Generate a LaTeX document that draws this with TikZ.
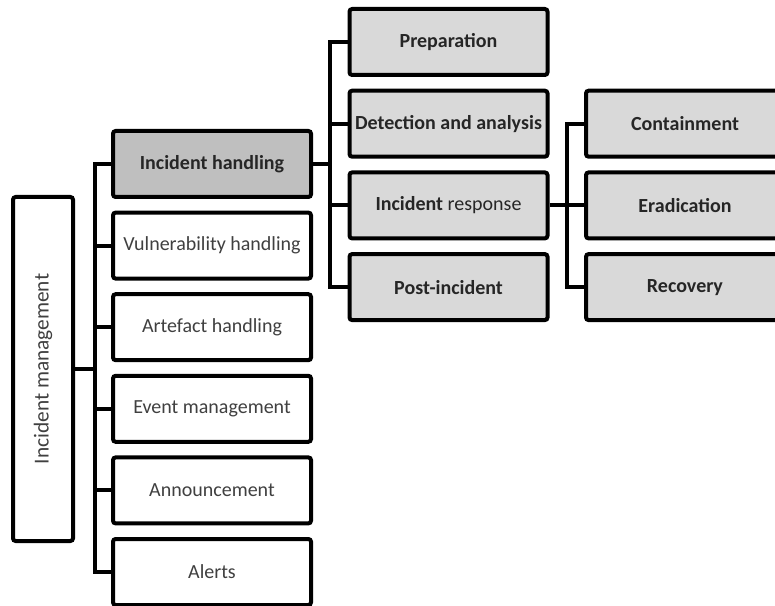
\documentclass[tikz,border=0pt]{standalone}
\usepackage{fontspec}
\setmainfont{Carlito}
\usepackage{graphicx}
\definecolor{lightgrey}{HTML}{D9D9D9}
\definecolor{midgrey}{HTML}{BFBFBF}
\definecolor{darktext}{HTML}{262626}
\definecolor{softtext}{HTML}{404040}

\begin{document}
\begin{tikzpicture}[x=0.75pt, y=-0.75pt, line width=3pt,
	box/.style={draw=black, rounded corners=2pt, minimum width=148.5pt, minimum height=49.5pt, inner sep=0pt, font=\fontsize{15}{17}\selectfont},
	plainbox/.style={box, fill=white, text=softtext},
	greybox/.style={box, fill=lightgrey, text=darktext, font=\fontsize{15}{17}\selectfont\bfseries}]
	\useasboundingbox (0,0) rectangle (775,606);

	\node[draw=black, rounded corners=2pt, minimum width=45pt, minimum height=258pt, inner sep=0pt, text=softtext, font=\fontsize{16}{18}\selectfont] (im) at (43,369) {\rotatebox{90}{Incident management}};

	% first level
	\node[greybox, fill=midgrey] (11) at (212,164) {Incident handling};
	\foreach \i/\l in {2/Vulnerability handling, 3/Artefact handling, 4/Event management, 5/Announcement, 6/Alerts}
	{
		\node[plainbox] (1\i) at (212,164+81.6*\i-81.6) {\l};
	}

	% second level
	\foreach \i/\l in {1/Preparation, 2/Detection and analysis, 3/{\textbf{Incident} \mdseries response}, 4/Post-incident}
	{
		\node[greybox] (2\i) at (448.5,42+81.7*\i-81.7) {\l};
	}

	% third level
	\foreach \i/\l in {2/Containment, 3/Eradication, 4/Recovery}
	{
		\node[greybox] (3\i) at (685,42+81.7*\i-81.7) {\l};
	}

	\coordinate (h1) at (95,369);
	\coordinate (h2) at (330,164);
	\coordinate (h3) at (567,205.4);

	\draw (im.east) -- (h1);
	\foreach \i in {1,...,6}
	{
		\draw (h1) |- (1\i.west);
	}
	\draw (11.east) -- (h2);
	\foreach \i in {1,...,4}
	{
		\draw (h2) |- (2\i.west);
	}
	\draw (23.east) -- (h3);
	\foreach \i in {2,3,4}
	{
		\draw (h3) |- (3\i.west);
	}
\end{tikzpicture}
\end{document}
